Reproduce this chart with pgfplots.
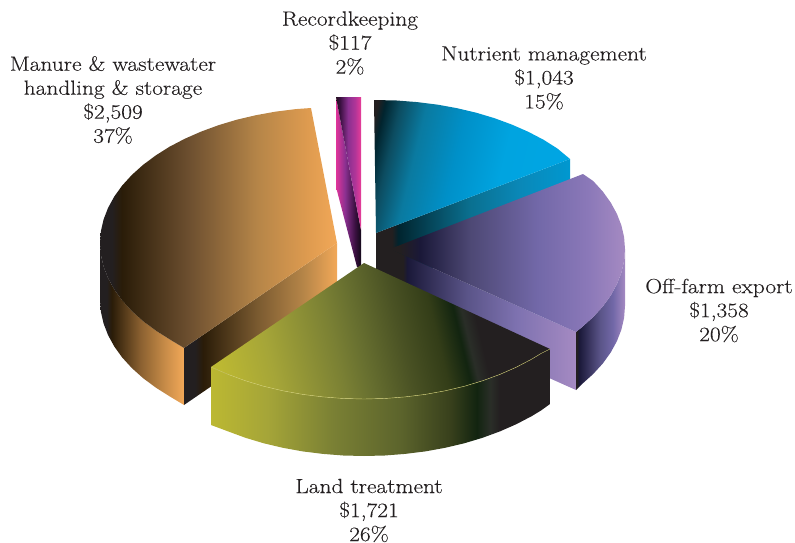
\documentclass[border=0pt]{standalone}
\usepackage{pgfplots}
\usepackage{fontspec}
\setmainfont{Latin Modern Roman}[FakeStretch=1.14,FakeBold=0.25]
\pgfplotsset{compat=1.18}
\newcommand{\hx}[2]{\definecolor{#1}{HTML}{#2}}
\hx{gr}{231F20}
% manure
\hx{ma}{2A1C08}\hx{mb}{6E5030}\hx{mc}{B58548}\hx{md}{E09C50}\hx{me}{F2A858}\hx{mf}{8A6030}\hx{mg}{C88C48}\hx{mh}{7A5A30}
% nutrient
\hx{na}{01242E}\hx{nb}{0C4C60}\hx{nc}{0A7AA0}\hx{nd}{0090C8}\hx{ne}{00A4E0}\hx{nf}{00A8E8}\hx{ng}{0A7090}\hx{nh}{0A88B8}\hx{ni}{0098D0}
% purple
\hx{pa}{1A1838}\hx{pb}{4D4874}\hx{pc}{7268A8}\hx{pd}{8A78B8}\hx{pe}{A58AC2}\hx{pf}{5A5488}\hx{pg}{7E72B0}
% land
\hx{la}{BCB832}\hx{lb}{A5A538}\hx{lc}{7A8034}\hx{ld}{687030}\hx{le}{4A5224}\hx{lf}{333D18}\hx{lg}{122410}\hx{lh}{2A2E28}\hx{li}{5C642C}\hx{lj}{38401C}
% record
\hx{ra}{E0359A}\hx{rb}{8A3090}\hx{rc}{3A1040}\hx{rd}{1A0A20}\hx{re}{231020}\hx{rf}{B03598}\hx{rg}{E83C98}
\pgfdeclarehorizontalshading{mtop}{100bp}{color(0bp)=(gr);color(27.5bp)=(gr);color(29.6bp)=(ma);color(44bp)=(mb);color(58.1bp)=(mc);color(69.3bp)=(md);color(75bp)=(me);color(100bp)=(me)}
\pgfdeclarehorizontalshading{mout}{100bp}{color(0bp)=(gr);color(29bp)=(gr);color(32bp)=(ma);color(49bp)=(mf);color(63.7bp)=(mg);color(75bp)=(me);color(100bp)=(me)}
\pgfdeclarehorizontalshading{mcut}{100bp}{color(0bp)=(gr);color(28.6bp)=(gr);color(31.2bp)=(ma);color(48.9bp)=(mh);color(63.9bp)=(mc);color(75bp)=(me);color(100bp)=(me)}
\pgfdeclarehorizontalshading{ntop}{100bp}{color(0bp)=(gr);color(21bp)=(gr);color(23bp)=(na);color(27bp)=(nb);color(34bp)=(nc);color(45bp)=(nd);color(58bp)=(ne);color(100bp)=(nf)}
\pgfdeclarehorizontalshading{nwall}{100bp}{color(0bp)=(gr);color(29.1bp)=(gr);color(30.7bp)=(na);color(49.2bp)=(ng);color(62.1bp)=(nh);color(75bp)=(ni);color(100bp)=(ni)}
\pgfdeclarehorizontalshading{ptop}{100bp}{color(0bp)=(gr);color(27.1bp)=(gr);color(31.4bp)=(pa);color(42bp)=(pb);color(56.3bp)=(pc);color(66.9bp)=(pd);color(75bp)=(pe);color(100bp)=(pe)}
\pgfdeclarehorizontalshading{pfront}{100bp}{color(0bp)=(gr);color(28.5bp)=(gr);color(29.6bp)=(pa);color(45.7bp)=(pf);color(59.1bp)=(pg);color(75bp)=(pe);color(100bp)=(pe)}
\pgfdeclarehorizontalshading{pout}{100bp}{color(0bp)=(gr);color(26bp)=(gr);color(28bp)=(pa);color(49.5bp)=(pf);color(62.8bp)=(pc);color(75bp)=(pe);color(100bp)=(pe)}
\pgfdeclarehorizontalshading{ltop}{100bp}{color(0bp)=(la);color(22.6bp)=(la);color(31bp)=(lb);color(42bp)=(lc);color(46bp)=(ld);color(53bp)=(le);color(59bp)=(lf);color(62.7bp)=(lg);color(64bp)=(lh);color(66bp)=(gr);color(100bp)=(gr)}
\pgfdeclarehorizontalshading{lwall}{100bp}{color(0bp)=(la);color(25bp)=(la);color(33.3bp)=(lb);color(43bp)=(lc);color(52.9bp)=(li);color(60.3bp)=(lj);color(64.2bp)=(lg);color(66.2bp)=(lh);color(67.6bp)=(gr);color(100bp)=(gr)}
\pgfdeclarehorizontalshading{rtop}{100bp}{color(0bp)=(re);color(25bp)=(re);color(33bp)=(rc);color(49bp)=(rb);color(63bp)=(rf);color(75bp)=(rg);color(100bp)=(rg)}
\pgfdeclarehorizontalshading{rwall}{100bp}{color(0bp)=(ra);color(25bp)=(ra);color(43bp)=(rb);color(63bp)=(rc);color(72bp)=(rd);color(100bp)=(rd)}
\tikzset{lab/.style={font=\fontsize{20.5}{24}\selectfont,text=gr,align=center,anchor=center,inner sep=0pt}}
\begin{document}
\begin{tikzpicture}
\begin{axis}[
  width=795pt,height=543pt,scale only axis,
  xmin=0,xmax=795,ymin=0,ymax=543,y dir=reverse,
  hide axis,clip=false,
  every axis plot/.append style={no markers,draw=none,forget plot},
]
\path (axis cs:0,0) rectangle (axis cs:795,543);
% Manure
\addplot[shading=mout] coordinates {(100,243)(100.9,254.9)(103.6,266.6)(108.1,278.2)(114.3,289.5)(122.2,300.5)(131.8,311)(142.9,321)(155.5,330.4)(169.4,339.2)(184,348)(184,405)(169.4,396.2)(155.5,387.4)(142.9,378)(131.8,368)(122.2,357.5)(114.3,346.5)(108.1,335.2)(103.6,323.6)(100.9,311.9)(100,300)} -- cycle;
\addplot[shading=mcut] coordinates {(184,348)(337,243)(337,300)(184,405)} -- cycle;
\addplot[shading=mtop] coordinates {(337,243)(311,108)(295.9,109.1)(275.7,111.6)(255.9,115.2)(236.8,119.7)(218.5,125.2)(201.1,131.6)(184.7,138.8)(169.4,146.8)(155.5,155.6)(142.9,165)(131.8,175)(122.2,185.5)(114.3,196.5)(108.1,207.8)(103.6,219.4)(100.9,231.1)(100,243)(100.9,254.9)(103.6,266.6)(108.1,278.2)(114.3,289.5)(122.2,300.5)(131.8,311)(142.9,321)(155.5,330.4)(169.4,339.2)(184,348)} -- cycle;
% Recordkeeping
\addplot[shading=rwall] coordinates {(336,97)(336,187)(357,267)(361,267)(361,230)} -- cycle;
\addplot[shading=rtop] coordinates {(336,97)(361,97)(361,230)} -- cycle;
% Nutrient
\addplot[shading=nwall] coordinates {(376,233)(570,159)(570,216)(376,290)} -- cycle;
\addplot[shading=ntop,shading angle=-13.4] coordinates {(374,100)(396.7,100.5)(417.1,102.1)(437.3,104.6)(457.1,108.2)(476.2,112.7)(494.5,118.2)(511.9,124.6)(528.3,131.8)(543.6,139.8)(557.5,148.6)(570,159)(376,233)} -- cycle;
% Off-farm
\addplot[shading=pout] coordinates {(576,332)(582.1,327)(593.2,317)(602.8,306.5)(610.7,295.5)(616.9,284.2)(621.4,272.6)(624.1,260.9)(625,249)(625,306)(624.1,317.9)(621.4,329.6)(616.9,341.2)(610.7,352.5)(602.8,363.5)(593.2,374)(582.1,384)(576,390)} -- cycle;
\addplot[shading=pfront] coordinates {(390,249)(576,332)(576,390)(390,307)} -- cycle;
\addplot[shading=ptop] coordinates {(390,249)(583,174)(593.2,181)(602.8,191.5)(610.7,202.5)(616.9,213.8)(621.4,225.4)(624.1,237.1)(625,249)(624.1,260.9)(621.4,272.6)(616.9,284.2)(610.7,295.5)(602.8,306.5)(593.2,317)(582.1,327)(576,332)} -- cycle;
% Land
\addplot[shading=lwall] coordinates {(211,367)(228.1,374.4)(245.5,380.8)(263.8,386.3)(282.9,390.8)(302.7,394.4)(322.9,396.9)(343.3,398.5)(364,399)(384.7,398.5)(405.1,396.9)(425.3,394.4)(445.1,390.8)(464.2,386.3)(482.5,380.8)(499.9,374.4)(516.3,367.2)(531.6,359.2)(541,353.5)(550,349)(550,404)(541,410.5)(531.6,416.2)(516.3,424.2)(499.9,431.4)(482.5,437.8)(464.2,443.3)(445.1,447.8)(425.3,451.4)(405.1,453.9)(384.7,455.5)(364,456)(343.3,455.5)(322.9,453.9)(302.7,451.4)(282.9,447.8)(263.8,443.3)(245.5,437.8)(228.1,431.4)(211,425)} -- cycle;
\addplot[shading=ltop,shading angle=13.4] coordinates {(364,263)(550,349)(541,353.5)(531.6,359.2)(516.3,367.2)(499.9,374.4)(482.5,380.8)(464.2,386.3)(445.1,390.8)(425.3,394.4)(405.1,396.9)(384.7,398.5)(364,399)(343.3,398.5)(322.9,396.9)(302.7,394.4)(282.9,390.8)(263.8,386.3)(245.5,380.8)(228.1,374.4)(211,367)} -- cycle;
\addplot[draw=la!70!white,line width=0.4pt] coordinates {(211,367)(228.1,374.4)(245.5,380.8)(263.8,386.3)(282.9,390.8)(302.7,394.4)(322.9,396.9)(343.3,398.5)(364,399)(384.7,398.5)(405.1,396.9)(425.3,394.4)(445.1,390.8)(464.2,386.3)(482.5,380.8)(499.9,374.4)(516.3,367.2)(531.6,359.2)(541,353.5)(550,349)};
% Labels
\node[lab] at (axis cs:350,43) {Recordkeeping\\\$117\\2\%};
\node[lab] at (axis cs:544,78) {Nutrient management\\\$1,043\\15\%};
\node[lab] at (axis cs:113,100) {Manure \& wastewater\\handling \& storage\\\$2,509\\37\%};
\node[lab] at (axis cs:719,310.5) {Off-farm export\\\$1,358\\20\%};
\node[lab] at (axis cs:369,510.5) {Land treatment\\\$1,721\\26\%};
\end{axis}
\end{tikzpicture}
\end{document}
